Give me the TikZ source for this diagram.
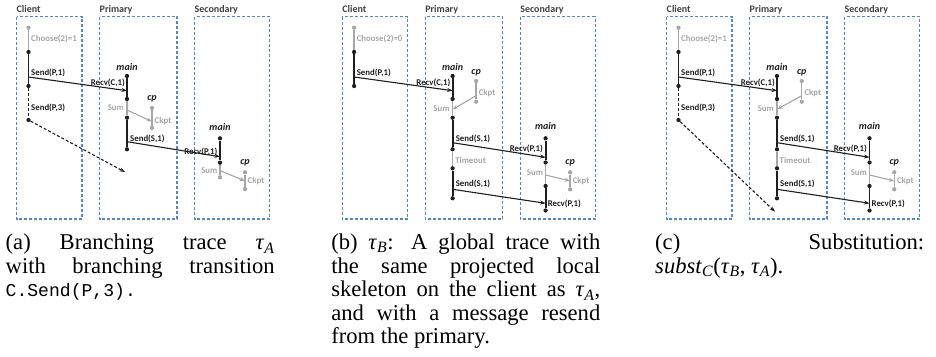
\documentclass[tikz,border=0pt]{standalone}
\usepackage{fontspec}
\setmainfont{Liberation Serif}
\setmonofont[Scale=0.8]{Liberation Mono}
\newfontfamily\labfont{Carlito}
\usetikzlibrary{arrows.meta}

\definecolor{boxblue}{HTML}{5A86B8}
\definecolor{evgray}{HTML}{A6A6A6}
\definecolor{ink}{HTML}{1E1E1E}

\newcommand\tauof[1]{\textit{τ}\textsubscript{\textit{#1}}}

\tikzset{
  lanebox/.style={draw=boxblue, line width=1.1pt, dash pattern=on 3pt off 2pt},
  headlbl/.style={font=\labfont\bfseries\fontsize{10}{12}\selectfont, text=ink!85, anchor=west, inner sep=0},
  bdot/.style={circle, fill=ink, inner sep=0, minimum size=4.3pt},
  gdot/.style={bdot, fill=evgray},
  lbl/.style={font=\labfont\bfseries\fontsize{8.8}{10}\selectfont, text=ink, inner sep=0},
  glbl/.style={font=\labfont\bfseries\fontsize{8.8}{10}\selectfont, text=evgray, inner sep=0},
  thr/.style={font=\labfont\bfseries\itshape\fontsize{10}{12}\selectfont, text=ink, inner sep=0},
  blkrun/.style={draw=ink, line width=1.8pt},
  grayrun/.style={draw=evgray, line width=1.3pt},
  dashrun/.style={draw=ink, line width=1.2pt, dash pattern=on 3pt off 2pt},
  msg/.style={draw=ink, line width=1.1pt, -{Stealth[length=5.5pt,width=4pt]}},
  gmsg/.style={draw=evgray, line width=1.1pt, -{Stealth[length=5.5pt,width=4pt]}},
  lostmsg/.style={msg, dash pattern=on 3pt off 2pt},
  capt/.style={anchor=base west, inner sep=0},
}

\newcommand\captext[1]{\parbox[t]{269pt}{\fontsize{22.6}{23.5}\selectfont
  \tolerance=10000 \hbadness=10000 \hyphenpenalty=10000 #1}}

\begin{document}
\begin{tikzpicture}[x=1pt, y=-1pt]
\useasboundingbox (0,0) rectangle (936,356);

% ---------------- (a) branching trace ----------------
\begin{scope}[name prefix=a-]
  \draw[lanebox] (16.5,16.5) rectangle (82,219);
  \draw[lanebox] (99.5,16.5) rectangle (177,219);
  \draw[lanebox] (194.5,16.5) rectangle (269.5,219);
  \node[headlbl] (hc) at (16.5,9.5) {Client};
  \node[headlbl] (hp) at (99.5,9.5) {Primary};
  \node[headlbl] (hs) at (194.5,9.5) {Secondary};
  % client
  \node[gdot] (c0) at (28.5,27.7) {};
  \node[bdot] (c1) at (28.5,52) {};
  \node[bdot] (c2) at (28.5,86) {};
  \node[bdot] (c3) at (28.5,120) {};
  \coordinate (cs) at (28.5,77);
  \coordinate (lost) at (125,172);
  \draw[grayrun] (c0) -- (c1);
  \draw[blkrun] (c1) -- (c2);
  \draw[dashrun] (c2) -- (c3);
  \node[glbl, anchor=west] (lch) at (31,39) {Choose(2)=1};
  \node[lbl, anchor=west] (ls1) at (31,72.5) {Send(P,1)};
  \node[lbl, anchor=west] (ls3) at (31,108) {Send(P,3)};
  % primary main
  \node[thr] (pm) at (127,67) {main};
  \node[bdot] (p1) at (127,76) {};
  \node[bdot] (p2) at (127,99) {};
  \node[bdot] (p3) at (127,117.7) {};
  \node[bdot] (p4) at (127,149.3) {};
  \coordinate (pr) at (127,90.7);
  \coordinate (ps) at (127,110);
  \coordinate (pt) at (127,141.7);
  \draw[blkrun] (p1) -- (p2);
  \draw[grayrun] (p2) -- (p3);
  \draw[blkrun] (p3) -- (p4);
  \node[lbl, anchor=east] (lrc) at (125,82.7) {Recv(C,1)};
  \node[glbl, anchor=east] (lsum) at (124,108) {Sum};
  \node[lbl, anchor=west] (lss) at (130,139) {Send(S,1)};
  % primary cp
  \node[thr] (pc) at (152,99) {cp};
  \node[gdot] (q1) at (152,108) {};
  \node[gdot] (q2) at (152,128) {};
  \coordinate (qk) at (152,121.5);
  \draw[grayrun] (q1) -- (q2);
  \node[glbl, anchor=west] (lck) at (154.5,121) {Ckpt};
  \draw[gmsg] (ps) -- (qk);
  % secondary main
  \node[thr] (sm) at (220,126.7) {main};
  \node[bdot] (s1) at (220,138.3) {};
  \node[bdot] (s2) at (220,162.7) {};
  \node[gdot] (s3) at (220,177.3) {};
  \coordinate (sr) at (220,156.7);
  \coordinate (ss) at (220,170.5);
  \draw[blkrun] (s1) -- (s2);
  \draw[grayrun] (s2) -- (s3);
  \node[lbl, anchor=east] (lrp) at (217.5,151.5) {Recv(P,1)};
  \node[glbl, anchor=east] (lsum2) at (217.5,170.5) {Sum};
  % secondary cp
  \node[thr] (sc) at (245,163.3) {cp};
  \node[gdot] (r1) at (245,172.3) {};
  \node[gdot] (r2) at (245,189) {};
  \coordinate (rk) at (245,181);
  \draw[grayrun] (r1) -- (r2);
  \node[glbl, anchor=west] (lck2) at (247.5,181) {Ckpt};
  \draw[gmsg] (ss) -- (rk);
  % messages
  \draw[msg] (cs) -- (pr);
  \draw[msg] (pt) -- (sr);
  \draw[lostmsg] (c3) -- (lost);
  % caption
  \node[capt] (cap) at (5.5,249.7) {\captext{(a) Branching trace \tauof{A}\linebreak
    with branching transition\linebreak \texttt{C.Send(P,3).}}};
\end{scope}

% ---------------- (b) trace with resend ----------------
\begin{scope}[xshift=325.6pt, name prefix=b-]
  \draw[lanebox] (16.5,16.5) rectangle (82,219);
  \draw[lanebox] (99.5,16.5) rectangle (177,219);
  \draw[lanebox] (194.5,16.5) rectangle (269.5,219);
  \node[headlbl] (hc) at (16.5,9.5) {Client};
  \node[headlbl] (hp) at (99.5,9.5) {Primary};
  \node[headlbl] (hs) at (194.5,9.5) {Secondary};
  % client
  \node[gdot] (c0) at (28.5,27.7) {};
  \node[bdot] (c1) at (28.5,52) {};
  \node[bdot] (c2) at (28.5,86) {};
  \coordinate (cs) at (28.5,77);
  \draw[grayrun] (c0) -- (c1);
  \draw[blkrun] (c1) -- (c2);
  \node[glbl, anchor=west] (lch) at (31,39) {Choose(2)=0};
  \node[lbl, anchor=west] (ls1) at (31,72.5) {Send(P,1)};
  % primary main
  \node[thr] (pm) at (127,67) {main};
  \node[bdot] (p1) at (127,76) {};
  \node[bdot] (p2) at (127,99) {};
  \node[bdot] (p3) at (127,117.7) {};
  \node[bdot] (p4) at (127,149.3) {};
  \node[bdot] (p5) at (127,168.3) {};
  \node[bdot] (p6) at (127,198.3) {};
  \coordinate (pr) at (127,90.7);
  \coordinate (ps) at (127,109.3);
  \coordinate (pt) at (127,142.7);
  \coordinate (pu) at (127,189.3);
  \draw[blkrun] (p1) -- (p2);
  \draw[grayrun] (p2) -- (p3);
  \draw[blkrun] (p3) -- (p4);
  \draw[grayrun] (p4) -- (p5);
  \draw[blkrun] (p5) -- (p6);
  \node[lbl, anchor=east] (lrc) at (125,82.7) {Recv(C,1)};
  \node[glbl, anchor=east] (lsum) at (124,108.3) {Sum};
  \node[lbl, anchor=west] (lss) at (130,139.3) {Send(S,1)};
  \node[glbl, anchor=west] (lto) at (129.5,160) {Timeout};
  \node[lbl, anchor=west] (lss2) at (130,184) {Send(S,1)};
  % primary cp
  \node[thr] (pc) at (150.5,72.7) {cp};
  \node[gdot] (q1) at (150.5,81) {};
  \node[gdot] (q2) at (150.5,101.7) {};
  \coordinate (qk) at (150.5,95.7);
  \draw[grayrun] (q1) -- (q2);
  \node[glbl, anchor=west] (lck) at (153,92.7) {Ckpt};
  \draw[gmsg] (qk) -- (ps);
  % secondary main
  \node[thr] (sm) at (220,126) {main};
  \node[bdot] (s1) at (220,138.3) {};
  \node[bdot] (s2) at (220,162.5) {};
  \node[bdot] (s3) at (220,186) {};
  \node[bdot] (s4) at (220,210.5) {};
  \coordinate (sr) at (220,157.3);
  \coordinate (ss) at (220,175);
  \coordinate (su) at (220,203.3);
  \draw[blkrun] (s1) -- (s2);
  \draw[grayrun] (s2) -- (s3);
  \draw[blkrun] (s3) -- (s4);
  \node[lbl, anchor=east] (lrp) at (217.5,149.3) {Recv(P,1)};
  \node[glbl, anchor=east] (lsum2) at (217.5,172.3) {Sum};
  \node[lbl, anchor=west] (lrp2) at (222,204) {Recv(P,1)};
  % secondary cp
  \node[thr] (sc) at (244.5,163.3) {cp};
  \node[gdot] (r1) at (244.5,172.3) {};
  \node[gdot] (r2) at (244.5,189.3) {};
  \coordinate (rk) at (244.5,181);
  \draw[grayrun] (r1) -- (r2);
  \node[glbl, anchor=west] (lck2) at (247,181) {Ckpt};
  \draw[gmsg] (ss) -- (rk);
  % messages
  \draw[msg] (cs) -- (pr);
  \draw[msg] (pt) -- (sr);
  \draw[msg] (pu) -- (su);
  % caption
  \node[capt] (cap) at (5.5,249.7) {\captext{(b) \tauof{B}: A global trace with\linebreak
    the same projected local\linebreak skeleton on the client as \tauof{A},\linebreak
    and with a message resend\linebreak from the primary.}};
\end{scope}

% ---------------- (c) substitution ----------------
\begin{scope}[xshift=650pt, name prefix=c-]
  \draw[lanebox] (16.5,16.5) rectangle (82,219);
  \draw[lanebox] (99.5,16.5) rectangle (177,219);
  \draw[lanebox] (194.5,16.5) rectangle (269.5,219);
  \node[headlbl] (hc) at (16.5,9.5) {Client};
  \node[headlbl] (hp) at (99.5,9.5) {Primary};
  \node[headlbl] (hs) at (194.5,9.5) {Secondary};
  % client
  \node[gdot] (c0) at (28.5,27.7) {};
  \node[bdot] (c1) at (28.5,52) {};
  \node[bdot] (c2) at (28.5,86) {};
  \node[bdot] (c3) at (28.5,120) {};
  \coordinate (cs) at (28.5,77);
  \coordinate (lost) at (125,211.7);
  \draw[grayrun] (c0) -- (c1);
  \draw[blkrun] (c1) -- (c2);
  \draw[dashrun] (c2) -- (c3);
  \node[glbl, anchor=west] (lch) at (31,39) {Choose(2)=1};
  \node[lbl, anchor=west] (ls1) at (31,72.5) {Send(P,1)};
  \node[lbl, anchor=west] (ls3) at (31,108) {Send(P,3)};
  % primary main
  \node[thr] (pm) at (127,67) {main};
  \node[bdot] (p1) at (127,76) {};
  \node[bdot] (p2) at (127,99) {};
  \node[bdot] (p3) at (127,117.7) {};
  \node[bdot] (p4) at (127,149.3) {};
  \node[bdot] (p5) at (127,168.3) {};
  \node[bdot] (p6) at (127,198.3) {};
  \coordinate (pr) at (127,90.7);
  \coordinate (ps) at (127,109.3);
  \coordinate (pt) at (127,142.7);
  \coordinate (pu) at (127,189.3);
  \draw[blkrun] (p1) -- (p2);
  \draw[grayrun] (p2) -- (p3);
  \draw[blkrun] (p3) -- (p4);
  \draw[grayrun] (p4) -- (p5);
  \draw[blkrun] (p5) -- (p6);
  \node[lbl, anchor=east] (lrc) at (125,82.7) {Recv(C,1)};
  \node[glbl, anchor=east] (lsum) at (124,108.3) {Sum};
  \node[lbl, anchor=west] (lss) at (130,139.3) {Send(S,1)};
  \node[glbl, anchor=west] (lto) at (129.5,160) {Timeout};
  \node[lbl, anchor=west] (lss2) at (130,184) {Send(S,1)};
  % primary cp
  \node[thr] (pc) at (151.7,72.7) {cp};
  \node[gdot] (q1) at (151.7,81) {};
  \node[gdot] (q2) at (151.7,101.7) {};
  \coordinate (qk) at (151.7,95.7);
  \draw[grayrun] (q1) -- (q2);
  \node[glbl, anchor=west] (lck) at (154.3,92.7) {Ckpt};
  \draw[gmsg] (qk) -- (ps);
  % secondary main
  \node[thr] (sm) at (219.5,126) {main};
  \node[bdot] (s1) at (219.5,138.3) {};
  \node[bdot] (s2) at (219.5,162.5) {};
  \node[bdot] (s3) at (219.5,186) {};
  \node[bdot] (s4) at (219.5,210.5) {};
  \coordinate (sr) at (219.5,157.3);
  \coordinate (ss) at (219.5,175);
  \coordinate (su) at (219.5,203.3);
  \draw[blkrun] (s1) -- (s2);
  \draw[grayrun] (s2) -- (s3);
  \draw[blkrun] (s3) -- (s4);
  \node[lbl, anchor=east] (lrp) at (217,149.3) {Recv(P,1)};
  \node[glbl, anchor=east] (lsum2) at (217,172.3) {Sum};
  \node[lbl, anchor=west] (lrp2) at (221.5,204) {Recv(P,1)};
  % secondary cp
  \node[thr] (sc) at (244.3,163.3) {cp};
  \node[gdot] (r1) at (244.3,172.3) {};
  \node[gdot] (r2) at (244.3,189.3) {};
  \coordinate (rk) at (244.3,181);
  \draw[grayrun] (r1) -- (r2);
  \node[glbl, anchor=west] (lck2) at (246.8,181) {Ckpt};
  \draw[gmsg] (ss) -- (rk);
  % messages
  \draw[msg] (cs) -- (pr);
  \draw[msg] (pt) -- (sr);
  \draw[msg] (pu) -- (su);
  \draw[lostmsg] (c3) -- (lost);
  % caption
  \node[capt] (cap) at (5,249.7) {\captext{(c) Substitution:\linebreak
    \textit{subst}\textsubscript{\textit{C}}(\tauof{B}, \tauof{A}).}};
\end{scope}
\end{tikzpicture}
\end{document}
